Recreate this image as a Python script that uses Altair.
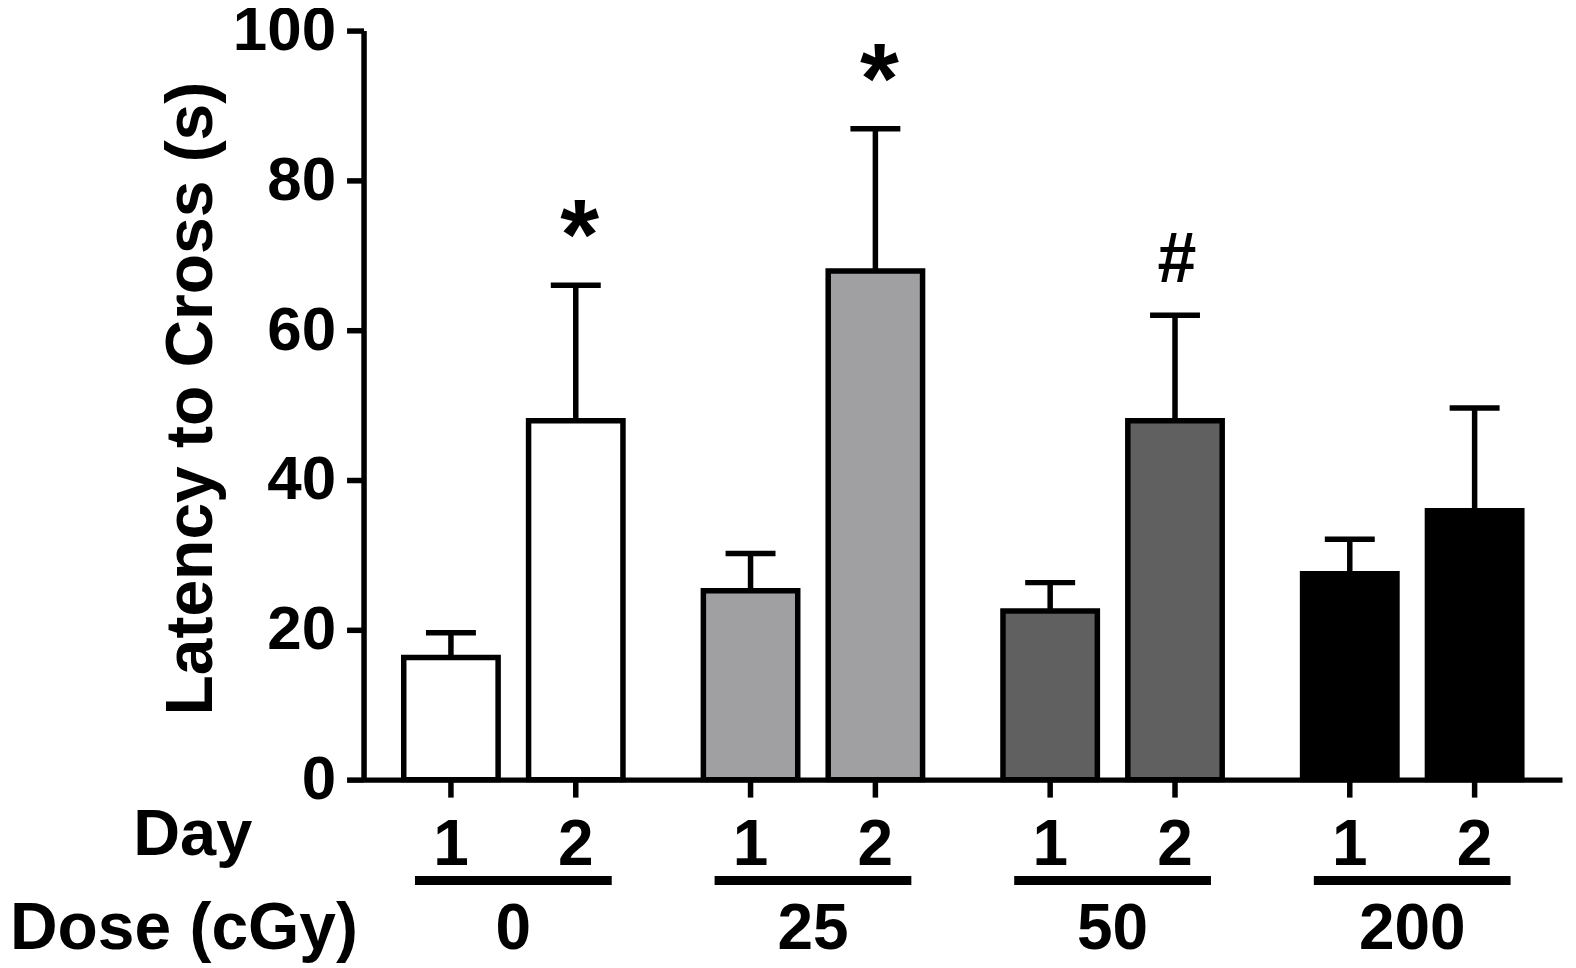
import altair as alt
import pandas as pd

doses = ["0", "25", "50", "200"]
days = ["1", "2"]
fills = ["#ffffff", "#a0a0a3", "#606060", "#000000"]
means = [16.3, 47.9, 25.2, 67.9, 22.5, 47.9, 27.5, 35.9]
sems = [3.3, 18.1, 5.0, 19.0, 3.8, 14.1, 4.6, 13.7]
marks = ["", "*", "", "*", "", "#", "", ""]
y_ticks = [0, 20, 40, 60, 80, 100]

rows = []
i = 0
for d in doses:
    for day in days:
        rows.append({"dose": d, "day": day, "mean": means[i], "sem": sems[i], "mark": marks[i]})
        i += 1
df = pd.DataFrame(rows)
groups = pd.DataFrame({"dose": doses})

FONT = "Liberation Sans"
W, H = 1200, 750
SW = 5.5

xenc = alt.X("dose:N", sort=doses,
             scale=alt.Scale(paddingInner=1/6, paddingOuter=1/12),
             axis=alt.Axis(labels=False, ticks=False, title=None,
                           domainWidth=SW, domainColor="black"))
xoff = alt.XOffset("day:N", sort=days,
                   scale=alt.Scale(paddingInner=0.244, paddingOuter=0.122))

base = alt.Chart(df).transform_calculate(top="datum.mean + datum.sem")

bars = base.mark_bar(stroke="black", strokeWidth=SW).encode(
    x=xenc, xOffset=xoff,
    y=alt.Y("mean:Q", scale=alt.Scale(domain=[0, 100], nice=False),
            axis=alt.Axis(values=y_ticks, grid=False, tickSize=17, tickWidth=SW,
                          tickColor="black", domainColor="black", domainWidth=SW,
                          labelFont=FONT, labelFontSize=62, labelFontWeight="bold",
                          labelColor="black", labelPadding=11,
                          title="Latency to Cross (s)", titleFont=FONT,
                          titleFontSize=66, titleFontWeight="bold", titleColor="black",
                          titleAngle=-90, titleAlign="center", titleBaseline="alphabetic",
                          titleX=-152, titleY=368)),
    fill=alt.Fill("dose:N", sort=doses, scale=alt.Scale(domain=doses, range=fills), legend=None),
)

stems = base.mark_rule(color="black", strokeWidth=SW).encode(
    x=alt.X("dose:N", sort=doses), xOffset=xoff,
    y="mean:Q", y2="top:Q",
)

caps = base.mark_tick(color="black", opacity=1, orient="horizontal", size=50, thickness=SW).encode(
    x=alt.X("dose:N", sort=doses), xOffset=xoff,
    y="top:Q",
)

xticks = base.mark_rule(color="black", strokeWidth=SW).encode(
    x=alt.X("dose:N", sort=doses), xOffset=xoff,
    y=alt.value(H), y2=alt.value(H + 18),
)

stars = base.transform_filter("datum.mark == '*'").mark_text(
    font=FONT, fontSize=100, fontWeight="bold", color="black",
    baseline="alphabetic", align="center", dx=4, dy=-16,
).encode(x=alt.X("dose:N", sort=doses), xOffset=xoff, y="top:Q", text="mark:N")

hashes = base.transform_filter("datum.mark == '#'").mark_text(
    font=FONT, fontSize=70, fontWeight="bold", color="black",
    baseline="alphabetic", align="center", dx=2, dy=-33,
).encode(x=alt.X("dose:N", sort=doses), xOffset=xoff, y="top:Q", text="mark:N")

day_labels = base.mark_text(
    font=FONT, fontSize=64, fontWeight="bold", color="black",
    baseline="alphabetic", align="center",
).encode(x=alt.X("dose:N", sort=doses), xOffset=xoff, y=alt.value(835), text="day:N")

underlines = alt.Chart(groups).mark_tick(
    color="black", opacity=1, orient="horizontal", size=197, thickness=9,
).encode(x=alt.X("dose:N", sort=doses), y=alt.value(851))

dose_labels = alt.Chart(groups).mark_text(
    font=FONT, fontSize=64, fontWeight="bold", color="black",
    baseline="alphabetic", align="center",
).encode(x=alt.X("dose:N", sort=doses), y=alt.value(920), text="dose:N")

day_title = alt.Chart(pd.DataFrame({"t": ["Day"]})).mark_text(
    font=FONT, fontSize=65, fontWeight="bold", color="black",
    baseline="alphabetic", align="center",
).encode(x=alt.value(-171), y=alt.value(825), text="t:N")

dose_title = alt.Chart(pd.DataFrame({"t": ["Dose (cGy)"]})).mark_text(
    font=FONT, fontSize=66, fontWeight="bold", color="black",
    baseline="alphabetic", align="left",
).encode(x=alt.value(-354), y=alt.value(920), text="t:N")

chart = alt.layer(
    bars, stems, caps, xticks, stars, hashes, day_labels, underlines, dose_labels,
    day_title, dose_title,
).properties(
    width=W, height=H,
    autosize=alt.AutoSizeParams(type="none"),
    padding={"left": 356, "top": 22, "right": 6, "bottom": 186},
    background="white",
).configure_view(stroke=None)

chart.save("out.html", embed_options={"renderer": "svg", "actions": False})
